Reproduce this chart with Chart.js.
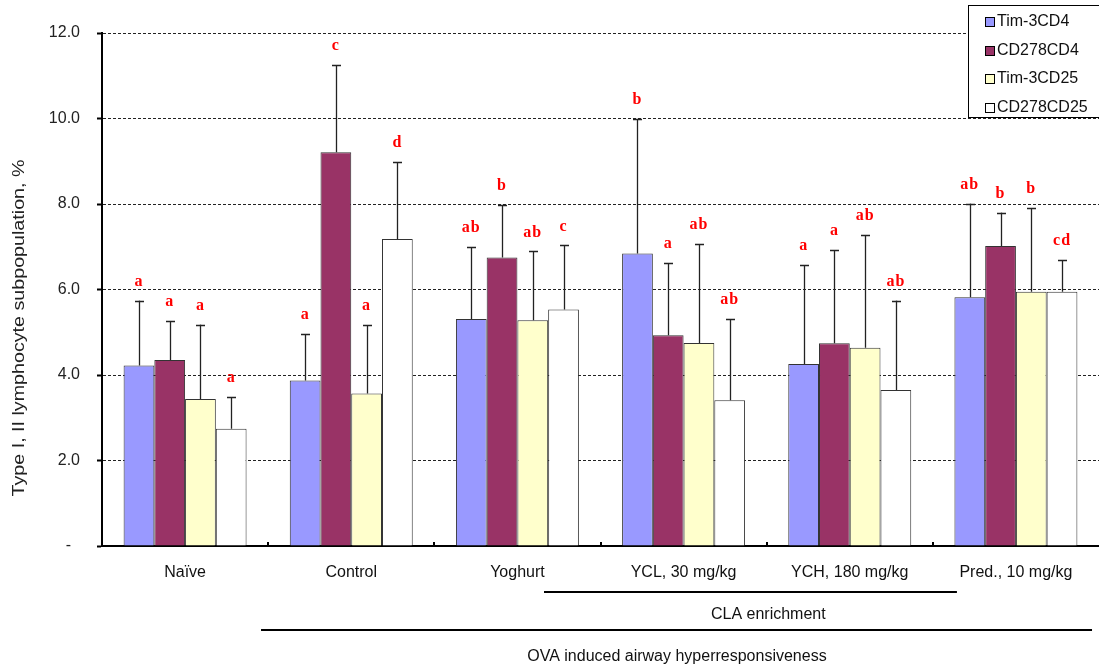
<!DOCTYPE html>
<html>
<head>
<meta charset="utf-8">
<title>Type I, II lymphocyte subpopulation</title>
<script src="https://cdn.jsdelivr.net/npm/chart.js@4.4.1/dist/chart.umd.min.js"></script>
<style>
  html, body { margin: 0; padding: 0; background: #fff; overflow: hidden; }
  #wrap { width: 1099px; height: 668px; position: relative; }
</style>
</head>
<body>
<div id="wrap"><canvas id="chart"></canvas></div>
<script>
// ── Data ──────────────────────────────────────────────────────
const groups     = ['Naïve', 'Control', 'Yoghurt', 'YCL, 30 mg/kg', 'YCH, 180 mg/kg', 'Pred., 10 mg/kg'];
const seriesName = ['Tim-3CD4', 'CD278CD4', 'Tim-3CD25', 'CD278CD25'];

const tim3CD4    = [4.22, 3.87, 5.31, 6.84, 4.26, 5.82];
const cd278CD4   = [4.35, 9.21, 6.75, 4.93, 4.74, 7.02];
const tim3CD25   = [3.44, 3.57, 5.28, 4.75, 4.64, 5.95];
const cd278CD25  = [2.74, 7.18, 5.53, 3.41, 3.65, 5.95];

// upper error (SD)
const tim3CD4Sd   = [1.52, 1.09, 1.68, 3.14, 2.31, 2.19];
const cd278CD4Sd  = [0.91, 2.04, 1.23, 1.69, 2.18, 0.78];
const tim3CD25Sd  = [1.74, 1.60, 1.61, 2.32, 2.63, 1.96];
const cd278CD25Sd = [0.75, 1.80, 1.50, 1.90, 2.09, 0.74];

// significance letters
const tim3CD4Sig   = ['a', 'a', 'ab', 'b',  'a',  'ab'];
const cd278CD4Sig  = ['a', 'c', 'b',  'a',  'a',  'b'];
const tim3CD25Sig  = ['a', 'a', 'ab', 'ab', 'ab', 'b'];
const cd278CD25Sig = ['a', 'd', 'c',  'ab', 'ab', 'cd'];

const yTicks = [0, 2, 4, 6, 8, 10, 12];
const yTitle = 'Type I, II lymphocyte subpopulation, %';

const FONT  = '"Liberation Sans", Arial, sans-serif';
const SERIF = '"Liberation Serif", "Times New Roman", serif';

// ── Annotations: error bars, letters, legend, group brackets ──
const extrasPlugin = {
  id: 'extras',
  afterDatasetsDraw(chart) {
    const { ctx, scales: { y } } = chart;
    ctx.save();
    chart.data.datasets.forEach((ds, i) => {
      const meta = chart.getDatasetMeta(i);
      meta.data.forEach((bar, j) => {
        const x    = Math.round(bar.x) + 0.5;
        const top  = y.getPixelForValue(ds.data[j] + ds.sd[j]);
        const base = y.getPixelForValue(ds.data[j]);
        ctx.strokeStyle = '#222';
        ctx.lineWidth = 1.3;
        ctx.beginPath();
        ctx.moveTo(x, base);
        ctx.lineTo(x, top);
        ctx.moveTo(x - 4.5, Math.round(top) + 0.5);
        ctx.lineTo(x + 4.5, Math.round(top) + 0.5);
        ctx.stroke();

        ctx.fillStyle = '#ff0000';
        ctx.font = `bold 16px ${SERIF}`;
        ctx.letterSpacing = '1px';
        ctx.textAlign = 'center';
        ctx.textBaseline = 'middle';
        ctx.fillText(ds.sig[j], bar.x, top - 19);
        ctx.letterSpacing = '0px';
      });
    });
    ctx.restore();
  },
  afterDraw(chart) {
    const { ctx, chartArea: ca, scales: { x } } = chart;
    ctx.save();

    // small inside ticks at category boundaries
    ctx.strokeStyle = '#000';
    ctx.lineWidth = 2;
    for (let i = 1; i < groups.length; i++) {
      const px = Math.round(x.getPixelForValue(i - 0.5));
      ctx.beginPath();
      ctx.moveTo(px, ca.bottom);
      ctx.lineTo(px, ca.bottom - 4);
      ctx.stroke();
    }

    // y axis title (the reference is stretched along its length)
    ctx.save();
    ctx.translate(20, 328);
    ctx.rotate(-Math.PI / 2);
    ctx.scale(1.23, 1);
    ctx.fillStyle = '#222';
    ctx.font = `16px ${FONT}`;
    ctx.textAlign = 'center';
    ctx.textBaseline = 'middle';
    ctx.fillText(yTitle, 0, 0);
    ctx.restore();

    // legend box
    const lx = 968.5, ly = 5.5;
    ctx.fillStyle = '#fff';
    ctx.fillRect(lx, ly, 140, 112);
    ctx.strokeStyle = '#000';
    ctx.lineWidth = 1;
    ctx.strokeRect(lx, ly, 140, 112);
    ctx.font = `16px ${FONT}`;
    ctx.textAlign = 'left';
    ctx.textBaseline = 'middle';
    chart.data.datasets.forEach((ds, i) => {
      const cy = 22 + i * 28.5;
      ctx.fillStyle = ds.backgroundColor;
      ctx.fillRect(985.5, Math.round(cy) - 4.5, 9, 9);
      ctx.strokeStyle = '#000';
      ctx.strokeRect(985.5, Math.round(cy) - 4.5, 9, 9);
      ctx.fillStyle = '#111';
      ctx.fillText(ds.label, 997, cy);
    });

    // group brackets under the x axis
    const bracket = (from, to, dy, label, tx, ty) => {
      ctx.strokeStyle = '#000';
      ctx.lineWidth = 2;
      ctx.beginPath();
      ctx.moveTo(x.getPixelForValue(from), ca.bottom + dy);
      ctx.lineTo(x.getPixelForValue(to), ca.bottom + dy);
      ctx.stroke();
      ctx.fillStyle = '#111';
      ctx.font = `16px ${FONT}`;
      ctx.textAlign = 'center';
      ctx.textBaseline = 'middle';
      ctx.fillText(label, x.getPixelForValue(tx), ca.bottom + ty);
    };
    bracket(2.16, 4.645, 46, 'CLA enrichment', 3.51, 69);
    bracket(0.457, 5.458, 84, 'OVA induced airway hyperresponsiveness', 2.96, 111);

    ctx.restore();
  }
};

// ── Chart ──────────────────────────────────────────────────────
const mk = (label, data, sd, sig, color) => ({
  label, data, sd, sig,
  backgroundColor: color,
  borderColor: '#333',
  borderWidth: 1,
  categoryPercentage: 0.74,
  barPercentage: 1.0,
});

new Chart(document.getElementById('chart'), {
  type: 'bar',
  data: {
    labels: groups,
    datasets: [
      mk(seriesName[0], tim3CD4,   tim3CD4Sd,   tim3CD4Sig,   '#9999ff'),
      mk(seriesName[1], cd278CD4,  cd278CD4Sd,  cd278CD4Sig,  '#993366'),
      mk(seriesName[2], tim3CD25,  tim3CD25Sd,  tim3CD25Sig,  '#ffffcc'),
      mk(seriesName[3], cd278CD25, cd278CD25Sd, cd278CD25Sig, '#ffffff'),
    ],
  },
  options: {
    responsive: true,
    maintainAspectRatio: false,
    animation: false,
    layout: { padding: { top: 33, right: 0, bottom: 0, left: 0 } },
    plugins: {
      legend: { display: false },
      tooltip: { enabled: false },
    },
    scales: {
      x: {
        grid: { display: false, drawTicks: false },
        border: { display: true, color: '#000', width: 2 },
        ticks: { color: '#111', padding: 17, font: { family: FONT, size: 16 } },
        afterFit: s => { s.height = 122; },
      },
      y: {
        min: 0,
        max: 12,
        afterBuildTicks: s => { s.ticks = yTicks.map(v => ({ value: v })); },
        grid: {
          color: '#222',
          lineWidth: 1,
          drawTicks: true,
          tickLength: 5,
          tickColor: '#000',
          tickWidth: 2,
          tickBorderDash: [],
        },
        border: { display: true, color: '#000', width: 2, dash: [3, 2] },
        ticks: {
          color: '#222',
          padding: 17,
          font: { family: FONT, size: 16 },
          callback: v => v === 0 ? '-  ' : v.toFixed(1),
        },
        title: { display: false },
        afterFit: s => { s.width = 102; },
      },
    },
  },
  plugins: [extrasPlugin],
});
</script>
</body>
</html>
